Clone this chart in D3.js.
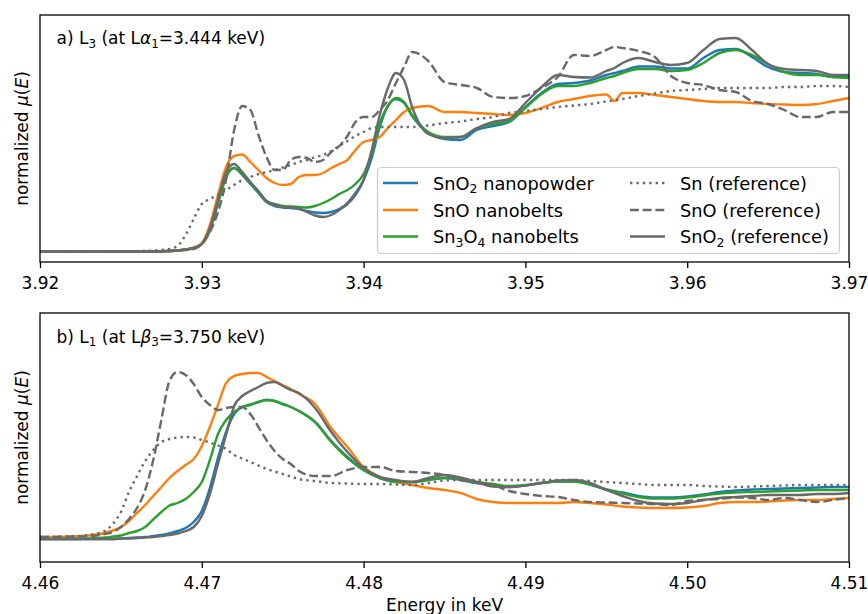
<!DOCTYPE html>
<html>
<head>
<meta charset="utf-8">
<script src="https://cdn.jsdelivr.net/npm/d3@7"></script>
<style>
  body { margin: 0; background: #fff; }
  svg { font-family: "DejaVu Sans", sans-serif; }
</style>
</head>
<body>
<div class="vis"></div>
<script>
// ---- data (energies in keV, normalized mu(E)) ----
const ticksL3 = [3.92, 3.93, 3.94, 3.95, 3.96, 3.97];
const ticksL1 = [4.46, 4.47, 4.48, 4.49, 4.50, 4.51];

const energyL3 = [3.920, 3.924, 3.927, 3.928, 3.9285, 3.929, 3.9295, 3.930, 3.9305, 3.931, 3.9315, 3.932,
    3.9325, 3.933, 3.9335, 3.934, 3.9345, 3.935, 3.9355, 3.936, 3.9365, 3.937, 3.9375, 3.938, 3.9385, 3.939,
    3.9395, 3.940, 3.9405, 3.941, 3.9415, 3.942, 3.9425, 3.943, 3.944, 3.945, 3.946, 3.947, 3.948, 3.949,
    3.950, 3.951, 3.952, 3.953, 3.954, 3.955, 3.9555, 3.956, 3.957, 3.958, 3.959, 3.960, 3.961, 3.962,
    3.963, 3.964, 3.965, 3.966, 3.967, 3.968, 3.969, 3.970];

const sno2NanoL3 = [0, 0, 0, 0.005, 0.01, 0.02, 0.035, 0.075, 0.215, 0.485, 0.745, 0.835, 0.765, 0.675, 0.585,
    0.495, 0.455, 0.44, 0.435, 0.425, 0.405, 0.39, 0.385, 0.395, 0.425, 0.485, 0.585, 0.715, 0.935, 1.245,
    1.455, 1.525, 1.485, 1.355, 1.185, 1.125, 1.115, 1.215, 1.255, 1.295, 1.445, 1.585, 1.675, 1.685, 1.71,
    1.765, 1.785, 1.805, 1.85, 1.85, 1.83, 1.83, 1.935, 2.015, 2.025, 1.945, 1.845, 1.795, 1.785, 1.775,
    1.745, 1.755];
const snoBeltsL3 = [0, 0, 0, 0.005, 0.01, 0.02, 0.04, 0.085, 0.265, 0.565, 0.845, 0.955, 0.97, 0.895, 0.815,
    0.735, 0.685, 0.665, 0.675, 0.745, 0.765, 0.765, 0.785, 0.835, 0.875, 0.915, 1.015, 1.095, 1.115, 1.145,
    1.235, 1.315, 1.395, 1.435, 1.455, 1.395, 1.395, 1.385, 1.375, 1.365, 1.385, 1.435, 1.495, 1.525, 1.555,
    1.57, 1.505, 1.585, 1.585, 1.565, 1.545, 1.525, 1.505, 1.495, 1.495, 1.485, 1.475, 1.47, 1.465, 1.475,
    1.505, 1.535];
const sn3o4BeltsL3 = [0, 0, 0, 0.005, 0.01, 0.02, 0.035, 0.075, 0.215, 0.485, 0.745, 0.835, 0.775, 0.685, 0.595,
    0.505, 0.475, 0.455, 0.45, 0.445, 0.44, 0.455, 0.485, 0.525, 0.575, 0.615, 0.675, 0.775, 0.985, 1.285,
    1.455, 1.535, 1.495, 1.365, 1.195, 1.145, 1.145, 1.235, 1.275, 1.305, 1.435, 1.575, 1.655, 1.655, 1.685,
    1.735, 1.755, 1.785, 1.825, 1.825, 1.805, 1.815, 1.885, 1.985, 2.015, 1.965, 1.875, 1.795, 1.765, 1.765,
    1.745, 1.735];
const snRefL3 = [0, 0, 0.01, 0.025, 0.055, 0.165, 0.325, 0.475, 0.525, 0.565, 0.615, 0.665, 0.715, 0.745, 0.775,
    0.795, 0.815, 0.84, 0.865, 0.895, 0.915, 0.945, 0.965, 1.005, 1.055, 1.105, 1.155, 1.195, 1.235, 1.245,
    1.245, 1.245, 1.245, 1.245, 1.26, 1.285, 1.30, 1.325, 1.345, 1.385, 1.405, 1.425, 1.445, 1.46, 1.475,
    1.50, 1.51, 1.525, 1.555, 1.58, 1.605, 1.615, 1.625, 1.635, 1.635, 1.635, 1.635, 1.645, 1.645, 1.655,
    1.655, 1.645];
const snoRefL3 = [0, 0, 0, 0.005, 0.01, 0.015, 0.025, 0.075, 0.195, 0.395, 0.715, 1.215, 1.455, 1.415, 1.165,
    0.945, 0.815, 0.815, 0.915, 0.945, 0.935, 0.895, 0.915, 0.995, 1.055, 1.155, 1.295, 1.345, 1.345, 1.415,
    1.515, 1.685, 1.845, 1.995, 1.905, 1.695, 1.665, 1.635, 1.545, 1.535, 1.555, 1.635, 1.745, 1.965, 1.955,
    2.015, 2.045, 2.035, 2.005, 1.945, 1.755, 1.685, 1.665, 1.615, 1.595, 1.505, 1.475, 1.415, 1.345, 1.345,
    1.395, 1.395];
const sno2RefL3 = [0, 0, 0, 0.005, 0.01, 0.02, 0.035, 0.075, 0.235, 0.515, 0.795, 0.875, 0.795, 0.695, 0.605,
    0.505, 0.465, 0.445, 0.44, 0.43, 0.395, 0.36, 0.345, 0.365, 0.415, 0.475, 0.565, 0.715, 1.015, 1.365,
    1.635, 1.785, 1.715, 1.445, 1.175, 1.135, 1.145, 1.235, 1.295, 1.325, 1.485, 1.645, 1.765, 1.745, 1.74,
    1.805, 1.835, 1.885, 1.935, 1.895, 1.865, 1.885, 2.015, 2.125, 2.135, 2.015, 1.875, 1.825, 1.815, 1.805,
    1.765, 1.765];

const energyL1 = [4.460, 4.462, 4.463, 4.4635, 4.464, 4.4645, 4.465, 4.4655, 4.466, 4.4665, 4.467, 4.4675,
    4.468, 4.4685, 4.469, 4.4695, 4.470, 4.4705, 4.471, 4.4715, 4.472, 4.4725, 4.473, 4.4735, 4.474, 4.4745,
    4.475, 4.4755, 4.476, 4.477, 4.478, 4.479, 4.480, 4.481, 4.482, 4.483, 4.484, 4.485, 4.486, 4.487,
    4.488, 4.489, 4.490, 4.491, 4.492, 4.493, 4.494, 4.495, 4.496, 4.497, 4.498, 4.499, 4.500, 4.501,
    4.502, 4.503, 4.504, 4.505, 4.506, 4.507, 4.508, 4.509, 4.510];

const sno2NanoL1 = [0, 0, 0, 0, 0, 0, 0.005, 0.01, 0.015, 0.02, 0.03, 0.04, 0.055, 0.08, 0.11, 0.17, 0.28, 0.51,
    0.81, 1.07, 1.25, 1.32, 1.34, 1.37, 1.39, 1.38, 1.35, 1.32, 1.28, 1.17, 0.98, 0.82, 0.69, 0.61, 0.57,
    0.57, 0.59, 0.61, 0.59, 0.56, 0.54, 0.52, 0.535, 0.56, 0.575, 0.575, 0.545, 0.495, 0.465, 0.43, 0.415,
    0.415, 0.425, 0.445, 0.47, 0.485, 0.495, 0.50, 0.505, 0.51, 0.515, 0.52, 0.52];
const snoBeltsL1 = [0.02, 0.025, 0.035, 0.045, 0.06, 0.085, 0.12, 0.18, 0.26, 0.34, 0.43, 0.52, 0.61, 0.68, 0.74,
    0.80, 0.93, 1.12, 1.34, 1.56, 1.63, 1.65, 1.66, 1.66, 1.62, 1.58, 1.54, 1.50, 1.45, 1.35, 1.11, 0.92,
    0.72, 0.62, 0.57, 0.54, 0.51, 0.49, 0.46, 0.40, 0.37, 0.36, 0.36, 0.36, 0.36, 0.37, 0.36, 0.345, 0.325,
    0.315, 0.31, 0.31, 0.315, 0.33, 0.36, 0.37, 0.37, 0.375, 0.385, 0.39, 0.39, 0.40, 0.41];
const sn3o4BeltsL1 = [0, 0, 0.005, 0.01, 0.015, 0.025, 0.035, 0.06, 0.08, 0.12, 0.195, 0.27, 0.335, 0.36, 0.40,
    0.47, 0.57, 0.79, 1.05, 1.19, 1.27, 1.32, 1.345, 1.37, 1.39, 1.38, 1.35, 1.32, 1.28, 1.17, 0.97, 0.81,
    0.69, 0.61, 0.575, 0.57, 0.59, 0.61, 0.60, 0.57, 0.55, 0.53, 0.54, 0.56, 0.575, 0.575, 0.545, 0.495,
    0.455, 0.42, 0.405, 0.405, 0.415, 0.435, 0.455, 0.465, 0.47, 0.475, 0.48, 0.485, 0.49, 0.49, 0.49];
const snRefL1 = [0.02, 0.025, 0.04, 0.055, 0.08, 0.15, 0.27, 0.47, 0.63, 0.78, 0.89, 0.97, 1.00, 1.015, 1.02,
    1.015, 0.99, 0.965, 0.935, 0.90, 0.84, 0.805, 0.77, 0.735, 0.70, 0.675, 0.65, 0.625, 0.60, 0.58, 0.56,
    0.555, 0.55, 0.55, 0.545, 0.54, 0.56, 0.585, 0.59, 0.59, 0.59, 0.59, 0.59, 0.59, 0.59, 0.59, 0.58, 0.57,
    0.56, 0.55, 0.54, 0.54, 0.54, 0.53, 0.525, 0.52, 0.525, 0.53, 0.535, 0.54, 0.54, 0.54, 0.54];
const snoRefL1 = [0.02, 0.025, 0.03, 0.035, 0.05, 0.07, 0.12, 0.20, 0.31, 0.49, 0.79, 1.19, 1.58, 1.67, 1.64,
    1.55, 1.42, 1.34, 1.29, 1.31, 1.32, 1.32, 1.25, 1.12, 0.99, 0.88, 0.80, 0.75, 0.68, 0.63, 0.63, 0.69,
    0.72, 0.72, 0.68, 0.67, 0.66, 0.64, 0.59, 0.56, 0.54, 0.48, 0.45, 0.43, 0.42, 0.39, 0.37, 0.365, 0.36,
    0.355, 0.35, 0.34, 0.38, 0.39, 0.40, 0.415, 0.41, 0.39, 0.41, 0.39, 0.37, 0.39, 0.41];
const sno2RefL1 = [0, 0, 0, 0, 0, 0, 0.005, 0.005, 0.01, 0.015, 0.02, 0.03, 0.04, 0.055, 0.08, 0.12, 0.23, 0.45,
    0.75, 1.04, 1.33, 1.43, 1.48, 1.52, 1.56, 1.57, 1.53, 1.49, 1.46, 1.31, 1.07, 0.87, 0.71, 0.62, 0.59,
    0.57, 0.61, 0.64, 0.615, 0.57, 0.525, 0.52, 0.535, 0.56, 0.585, 0.59, 0.56, 0.49, 0.43, 0.38, 0.355,
    0.35, 0.36, 0.39, 0.41, 0.42, 0.43, 0.44, 0.44, 0.44, 0.45, 0.45, 0.46];

(function () {
    const svgWidth = 868;
    const svgHeight = 614;
    const fontSize = 17;
    const legendFontSize = 17.8;

    const svg = d3.select('.vis')
        .append('svg')
            .attr('width', svgWidth)
            .attr('height', svgHeight);

    var plotLeft = 40;
    var plotRight = 849;

    // line style for each series, in plotting order
    var styles = [
        { color: '#1f77b4', dash: null },
        { color: '#ff7f0e', dash: null },
        { color: '#2ca02c', dash: null },
        { color: '#696969', dash: '2.4,4' },
        { color: '#696969', dash: '8.9,3.8' },
        { color: '#696969', dash: null }
    ];

    // text with subscripts / italics built from parts
    function richText(sel, parts, size) {
        var shift = 0;
        parts.forEach(function (p) {
            var t = sel.append('tspan');
            var target = 0;
            if (typeof p === 'string') {
                t.text(p);
            } else if (p.sub) {
                target = size * 0.22;
                t.attr('font-size', size * 0.7).text(p.sub);
            } else if (p.it) {
                t.attr('font-style', 'italic').text(p.it);
            }
            if (target - shift !== 0) t.attr('dy', target - shift);
            shift = target;
        });
    }

    var panels = [
        {
            top: 15, bottom: 262, energy: energyL3, ticks: ticksL3,
            yDomain: [-0.105, 2.365],
            series: [sno2NanoL3, snoBeltsL3, sn3o4BeltsL3, snRefL3, snoRefL3, sno2RefL3],
            title: ['a) L', { sub: '3' }, ' (at L', { it: 'α' }, { sub: '1' }, '=3.444 keV)'],
            titleY: 44
        },
        {
            top: 313, bottom: 562, energy: energyL1, ticks: ticksL1,
            yDomain: [-0.23, 2.26],
            series: [sno2NanoL1, snoBeltsL1, sn3o4BeltsL1, snRefL1, snoRefL1, sno2RefL1],
            title: ['b) L', { sub: '1' }, ' (at L', { it: 'β' }, { sub: '3' }, '=3.750 keV)'],
            titleY: 342.5
        }
    ];

    panels.forEach(function (p, k) {
        var xScale = d3.scaleLinear()
            .domain([p.ticks[0], p.ticks[p.ticks.length - 1]])
            .range([plotLeft, plotRight]);
        var yScale = d3.scaleLinear()
            .domain(p.yDomain)
            .range([p.bottom, p.top]);

        svg.append('clipPath')
            .attr('id', 'clip' + k)
            .append('rect')
                .attr('x', plotLeft)
                .attr('y', p.top)
                .attr('width', plotRight - plotLeft)
                .attr('height', p.bottom - p.top);

        var line = d3.line()
            .x(function (d) { return xScale(d[0]); })
            .y(function (d) { return yScale(d[1]); })
            .curve(d3.curveMonotoneX);

        var lines = svg.append('g').attr('clip-path', 'url(#clip' + k + ')');
        p.series.forEach(function (vals, i) {
            var pts = p.energy.map(function (e, j) { return [e, vals[j]]; });
            lines.append('path')
                .datum(pts)
                .attr('d', line)
                .attr('fill', 'none')
                .attr('stroke', styles[i].color)
                .attr('stroke-width', 2.4)
                .attr('stroke-linejoin', 'round')
                .attr('stroke-dasharray', styles[i].dash);
        });

        // frame
        svg.append('rect')
            .attr('x', plotLeft)
            .attr('y', p.top)
            .attr('width', plotRight - plotLeft)
            .attr('height', p.bottom - p.top)
            .attr('fill', 'none')
            .attr('stroke', '#000')
            .attr('stroke-width', 1.3);

        var xAxis = d3.axisBottom(xScale)
            .tickValues(p.ticks)
            .tickSize(6)
            .tickPadding(9)
            .tickFormat(d3.format('.2f'));

        var callxAxis = svg.append('g')
            .attr('transform', `translate(0, ${p.bottom})`)
            .call(xAxis);
        callxAxis.select('.domain').remove();
        callxAxis.selectAll('line').attr('stroke', '#000').attr('stroke-width', 1.3);
        callxAxis.selectAll('text')
            .attr('font-family', '"DejaVu Sans", sans-serif')
            .attr('font-size', fontSize)
            .attr('fill', '#000');
        callxAxis.attr('font-family', null).attr('font-size', null);

        // y label
        var ylab = svg.append('text')
            .attr('transform', `translate(28, ${(p.top + p.bottom) / 2}) rotate(-90)`)
            .attr('text-anchor', 'middle')
            .attr('font-size', fontSize);
        richText(ylab, ['normalized ', { it: 'μ' }, '(', { it: 'E' }, ')'], fontSize);

        // panel title
        var title = svg.append('text')
            .attr('x', 56.5)
            .attr('y', p.titleY)
            .attr('font-size', fontSize);
        richText(title, p.title, fontSize);
    });

    svg.append('text')
        .attr('x', (plotLeft + plotRight) / 2)
        .attr('y', 610.5)
        .attr('text-anchor', 'middle')
        .attr('font-size', fontSize)
        .text('Energy in keV');

    // legend
    var legendLabels = [
        ['SnO', { sub: '2' }, ' nanopowder'],
        ['SnO nanobelts'],
        ['Sn', { sub: '3' }, 'O', { sub: '4' }, ' nanobelts'],
        ['Sn (reference)'],
        ['SnO (reference)'],
        ['SnO', { sub: '2' }, ' (reference)']
    ];
    var legend = svg.append('g');
    legend.append('rect')
        .attr('x', 377.5)
        .attr('y', 167.5)
        .attr('width', 462)
        .attr('height', 86)
        .attr('rx', 4)
        .attr('fill', '#fff')
        .attr('fill-opacity', 0.8)
        .attr('stroke', '#cccccc')
        .attr('stroke-width', 1.2);

    var colX = [383, 630];
    var rowY = [183, 210, 236.5];
    legendLabels.forEach(function (lab, i) {
        var cx = colX[Math.floor(i / 3)];
        var cy = rowY[i % 3];
        legend.append('line')
            .attr('x1', cx)
            .attr('x2', cx + 35)
            .attr('y1', cy)
            .attr('y2', cy)
            .attr('stroke', styles[i].color)
            .attr('stroke-width', 2.4)
            .attr('stroke-dasharray', styles[i].dash);
        var t = legend.append('text')
            .attr('x', cx + 50)
            .attr('y', cy + 6.5)
            .attr('font-size', legendFontSize);
        richText(t, lab, legendFontSize);
    });

} (d3));
</script>
</body>
</html>
